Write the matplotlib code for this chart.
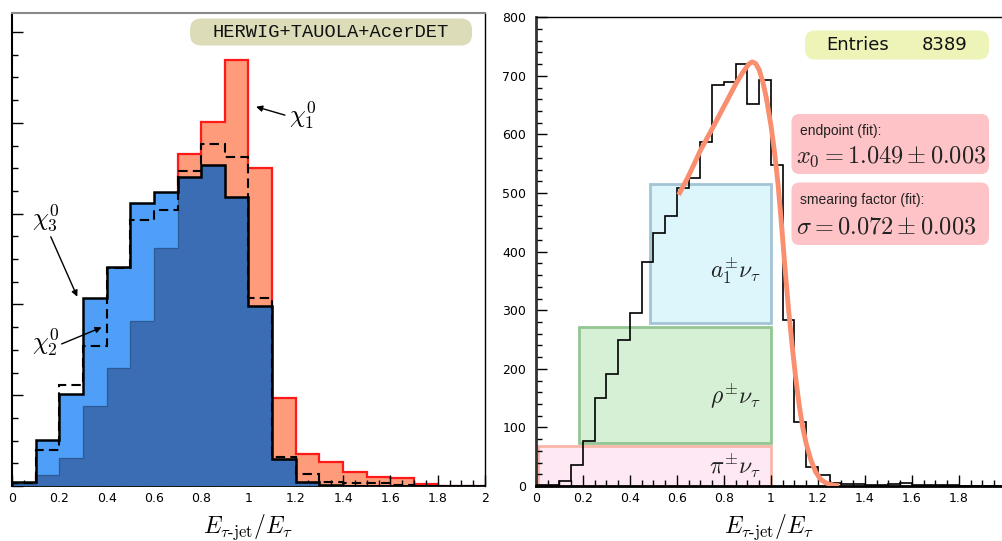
import numpy as np
import matplotlib
matplotlib.use("Agg")
import matplotlib.pyplot as plt
from matplotlib.patches import FancyBboxPatch, Rectangle
from matplotlib.ticker import MultipleLocator, FuncFormatter

plt.rcParams["mathtext.fontset"] = "cm"
plt.rcParams["font.family"] = ["DejaVu Sans"]

# ---------------- left panel data (arbitrary units) ----------------
edges_left = np.round(np.arange(0, 2.0001, 0.1), 3)
chi1 = [0.08, 0.48, 1.22, 3.54, 5.21, 7.27, 10.47, 14.64, 16.04, 18.77,
        14.0, 3.86, 1.42, 1.07, 0.63, 0.41, 0.34, 0.07, 0.02, 0.0]
chi2 = [0.15, 1.59, 4.45, 6.17, 9.6, 11.72, 12.16, 13.89, 15.07, 14.48,
        8.27, 1.26, 0.53, 0.16, 0.12, 0.15, 0.05, 0.01, 0.0, 0.0]
chi3 = [0.19, 2.03, 4.07, 8.28, 9.66, 12.45, 12.97, 13.63, 14.14, 12.74,
        7.92, 1.17, 0.19, 0.04, 0.02, 0.01, 0.0, 0.0, 0.0, 0.0]
generator_label = "HERWIG+TAUOLA+AcerDET"

# ---------------- right panel data ----------------
edges_right = np.round(np.arange(0, 2.0001, 0.05), 3)
counts = [2, 2, 9, 36, 76, 150, 192, 250, 295, 383,
          431, 461, 509, 525, 587, 684, 690, 720, 652, 693,
          548, 283, 110, 33, 19, 5, 3, 3, 2, 2,
          3, 5, 2, 1, 1, 1, 0, 0, 0, 0]
fit_x = [0.607, 0.65, 0.70, 0.75, 0.80, 0.85, 0.88, 0.905, 0.92, 0.935,
         0.95, 0.965, 0.98, 1.0, 1.015, 1.03, 1.045, 1.06, 1.075, 1.09,
         1.105, 1.12, 1.135, 1.15, 1.17, 1.19, 1.21, 1.23, 1.25, 1.27, 1.29]
fit_y = [497, 530, 573, 610, 648, 686, 706, 720, 724, 721,
         710, 690, 663, 615, 570, 515, 445, 370, 300, 240,
         185, 138, 100, 72, 44, 24, 12, 6, 3, 1, 0.5]
entries = 8389
channels = [r"$\pi^{\pm}\nu_\tau$", r"$\rho^{\pm}\nu_\tau$", r"$a_1^{\pm}\nu_\tau$"]
chan_x0 = [0.008, 0.184, 0.486]
chan_x1 = [1.0, 1.0, 1.0]
chan_y0 = [0, 73, 278]
chan_y1 = [69, 272, 516]
chan_face = ["#fde8f3", "#d6f0d6", "#dcf6fc"]
chan_edge = ["#f7b6a8", "#93c693", "#a3c4d4"]
chan_label_y = [21, 141, 355]
endpoint_txt = r"$x_0 = 1.049 \pm 0.003$"
sigma_txt = r"$\sigma = 0.072 \pm 0.003$"

W, H = 1002, 541
fig = plt.figure(figsize=(W / 100, H / 100), dpi=100)

def px_axes(l, t, r, b):
    return fig.add_axes([l / W, 1 - b / H, (r - l) / W, (b - t) / H])

# ================= LEFT =================
ax = px_axes(12, 13, 485, 486)
c1 = np.array(chi1); c3 = np.array(chi3)
overlap = np.minimum(c1, c3)
ax.stairs(chi1, edges_left, fill=True, color="#fd9b7a", zorder=1)
ax.stairs(chi1, edges_left, color="#ff1a1a", lw=1.6, zorder=1.5)
ax.stairs(chi3, edges_left, fill=True, color="#4f9ef7", zorder=2)
ax.stairs(overlap, edges_left, fill=True, color="#3a6db3", zorder=3)
ax.stairs(overlap, edges_left, color="#2e5a96", lw=0.9, zorder=3.2)
ax.stairs(chi2, edges_left, color="black", lw=1.5, ls=(0, (4.5, 2.5)), zorder=4)
ax.stairs(chi3, edges_left, color="black", lw=1.8, zorder=5)
ax.set_xlim(0, 2)
ax.set_ylim(0, 20.84)
ax.xaxis.set_major_locator(MultipleLocator(0.2))
ax.xaxis.set_minor_locator(MultipleLocator(0.05))
ax.yaxis.set_major_locator(MultipleLocator(4))
ax.yaxis.set_minor_locator(MultipleLocator(1))
ax.xaxis.set_major_formatter(FuncFormatter(lambda v, p: "%g" % round(v, 2)))
ax.tick_params(which="both", direction="in", top=False, right=False, width=1, labelsize=9, pad=4)
ax.tick_params(which="major", length=8)
ax.tick_params(which="minor", length=4)
ax.tick_params(axis="y", labelleft=False)
ax.spines["top"].set_color("#8a8a8a"); ax.spines["top"].set_linewidth(1.5)
ax.spines["left"].set_linewidth(1.5)
ax.spines["right"].set_linewidth(1.0)
ax.spines["bottom"].set_linewidth(1.3)
ax.set_xlabel(r"$E_{\tau\text{-}\mathrm{jet}}/E_{\tau}$", fontsize=17, labelpad=6)

arr = dict(arrowstyle="-|>", color="black", lw=1.0, mutation_scale=9, shrinkA=0, shrinkB=0)
ax.text(1.23, 16.3, r"$\chi_1^0$", fontsize=18, ha="center", va="center", zorder=6)
ax.annotate("", xy=(1.032, 16.71), xytext=(1.154, 16.34), arrowprops=arr, zorder=6)
ax.text(0.144, 11.8, r"$\chi_3^0$", fontsize=18, ha="center", va="center", zorder=6)
ax.annotate("", xy=(0.276, 8.34), xytext=(0.164, 10.98), arrowprops=arr, zorder=6)
ax.text(0.144, 6.3, r"$\chi_2^0$", fontsize=18, ha="center", va="center", zorder=6)
ax.annotate("", xy=(0.379, 6.99), xytext=(0.21, 6.26), arrowprops=arr, zorder=6)

# ================= RIGHT =================
bx = px_axes(536, 17.3, 1002, 486)
for x0, x1, y0, y1, fc, ec in zip(chan_x0, chan_x1, chan_y0, chan_y1, chan_face, chan_edge):
    bx.add_patch(Rectangle((x0, y0), x1 - x0, y1 - y0, facecolor=fc, edgecolor=ec, lw=2, zorder=1))
for lab, x1, ly in zip(channels, chan_x1, chan_label_y):
    bx.text(x1 - 0.045, ly, lab, fontsize=17, ha="right", va="baseline", color="#222222", zorder=2)
bx.stairs(counts, edges_right, color="black", lw=1.2, zorder=3)
bx.plot(fit_x, fit_y, color="#f98f6f", lw=3.5, solid_capstyle="butt", solid_joinstyle="round", zorder=4)
bx.set_xlim(0, 1.983)
bx.set_ylim(0, 800)
bx.xaxis.set_major_locator(MultipleLocator(0.2))
bx.xaxis.set_minor_locator(MultipleLocator(0.05))
bx.yaxis.set_major_locator(MultipleLocator(100))
bx.yaxis.set_minor_locator(MultipleLocator(20))
bx.xaxis.set_major_formatter(FuncFormatter(lambda v, p: "%g" % round(v, 2)))
bx.tick_params(which="both", direction="in", top=False, right=False, width=1, labelsize=9)
bx.tick_params(axis="x", pad=4)
bx.tick_params(axis="y", pad=7)
bx.tick_params(which="major", length=8)
bx.tick_params(which="minor", length=4)
bx.spines["right"].set_visible(False)
bx.spines["left"].set_color("#333333"); bx.spines["left"].set_linewidth(2)
bx.spines["bottom"].set_linewidth(2)
bx.spines["top"].set_linewidth(1.0)
bx.set_xlabel(r"$E_{\tau\text{-}\mathrm{jet}}/E_{\tau}$", fontsize=17, labelpad=6)

# ================= overlay boxes (pixel coordinates) =================
ov = fig.add_axes([0, 0, 1, 1], zorder=10)
ov.set_xlim(0, W); ov.set_ylim(H, 0); ov.axis("off")

def rbox(l, t, r, b, color, rad=9):
    ov.add_patch(FancyBboxPatch((l + rad, t + rad), (r - l) - 2 * rad, (b - t) - 2 * rad,
                                boxstyle="round,pad=%g" % rad, facecolor=color, edgecolor="none"))

rbox(190, 18.5, 472, 45.5, "#dcdcb9", rad=11)
ov.text(331, 32.5, generator_label, family="Liberation Mono", fontsize=13.5,
        ha="center", va="center", color="#111111")

rbox(805, 30.5, 989, 59.5, "#eef3b8", rad=10)
ov.text(826, 45, "Entries", fontsize=13, ha="left", va="center", color="#111111")
ov.text(968, 45, str(entries), fontsize=13, ha="right", va="center", color="#111111")

rbox(791.5, 114, 989, 174, "#fdc3c7", rad=8)
ov.text(800.5, 131, "endpoint (fit):", family="Liberation Sans", fontsize=10, ha="left", va="center", color="#222")
ov.text(796, 157, endpoint_txt, fontsize=17.5, ha="left", va="center", color="#222")

rbox(791.5, 182.5, 989, 245, "#fdc3c7", rad=8)
ov.text(800.5, 200, "smearing factor (fit):", family="Liberation Sans", fontsize=10, ha="left", va="center", color="#222")
ov.text(796, 226, sigma_txt, fontsize=17.5, ha="left", va="center", color="#222")

fig.savefig("out.png", dpi=100)
